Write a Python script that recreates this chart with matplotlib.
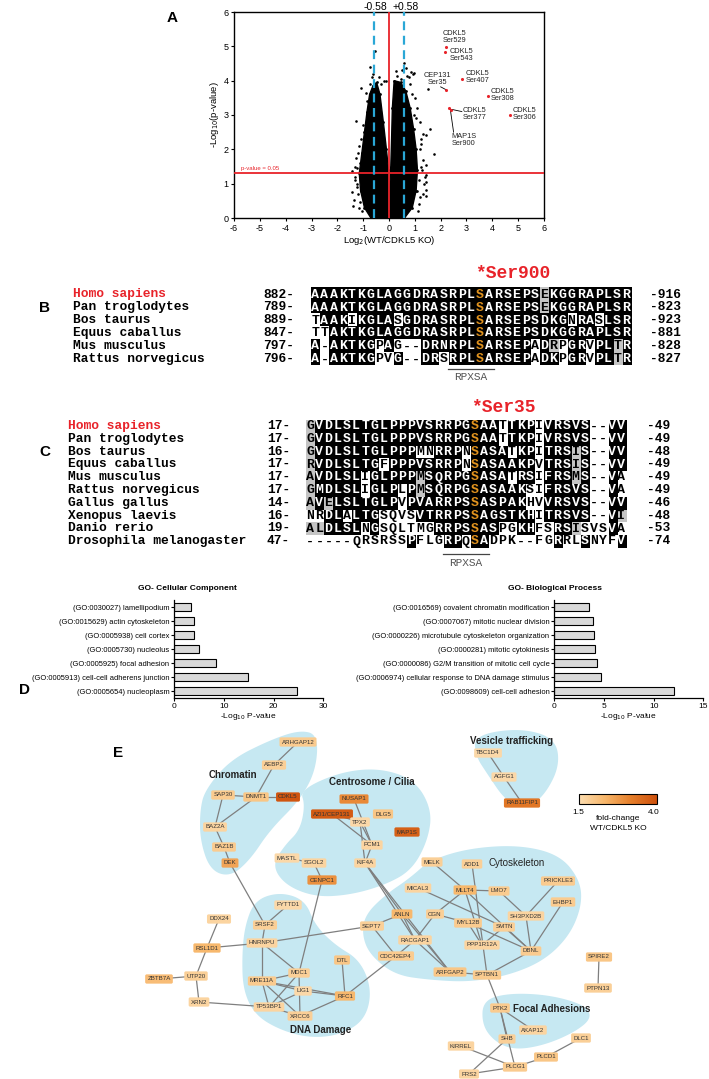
import numpy as np
import matplotlib.pyplot as plt
from matplotlib.colors import LinearSegmentedColormap, ListedColormap, Normalize
from matplotlib.patches import Polygon
import matplotlib.colorbar as mcb

plt.rcParams['font.family'] = ['Liberation Sans', 'DejaVu Sans']
plt.rcParams['axes.unicode_minus'] = False

W, H = 709, 1079
RED = '#E8232A'
CYAN = '#2AA7D6'
ORANGE = '#E0921E'

# ---------------- panel A data (volcano) ----------------
# dense part of the cloud, outlined from the picture
cloud_left = [(-0.62, 3.85), (-0.48, 3.95), (-0.35, 3.6), (-0.22, 2.8), (-0.1, 2.0), (-0.02, 1.4),
              (0.0, 0.8), (0.3, 0.2), (0.5, 0.0), (-0.7, 0.0), (-0.95, 0.3), (-1.1, 0.8),
              (-1.15, 1.3), (-1.05, 1.9), (-0.95, 2.5), (-0.85, 3.1), (-0.75, 3.6)]
cloud_right = [(0.2, 4.0), (0.45, 3.95), (0.65, 3.7), (0.82, 3.2), (0.95, 2.6), (1.05, 2.0),
               (1.1, 1.4), (1.05, 0.8), (0.9, 0.3), (0.6, 0.0), (0.0, 0.0), (0.02, 0.8),
               (0.07, 1.5), (0.1, 2.3), (0.13, 3.2)]
# scattered sites outside the dense part
out_x = [-0.56, -0.75, -0.6, -1.07, -0.9, -1.29, -1.0, -1.1, -1.2, -1.14, -1.42, -1.33, -1.25, -1.42,
         -1.35, -1.14, -1.0, -0.2, -0.13, -0.3, -1.3, -1.25, -1.2, -1.15, -1.05, -1.22, -1.18,
         -0.85, -0.75, -0.65, -0.4, -1.3, -1.38, -1.28,
         0.58, 0.67, 0.26, 0.86, 0.97, 0.92, 0.78, 0.45, 1.51, 1.6, 1.45, 1.3, 1.73, 1.2, 1.45, 1.45,
         1.45, 1.45, 1.45, 1.06, 1.29, 1.15, 1.1, 1.2, 1.3, 1.05, 1.1,
         0.3, 0.5, 0.7, 1.0, 0.98, 1.2, 1.25, 1.22, 1.35, 1.3, 1.15, 1.12, 0.8, 0.88, 1.38, 1.25]
out_y = [4.86, 4.4, 4.2, 3.8, 3.65, 2.83, 2.7, 2.3, 1.9, 1.6, 1.36, 1.11, 1.0, 0.75,
         0.53, 0.48, 0.6, 4.0, 3.99, 3.9, 1.2, 0.9, 0.7, 0.3, 0.2, 1.45, 2.1,
         3.4, 3.9, 4.1, 4.1, 1.5, 0.35, 1.75,
         4.52, 4.36, 4.28, 4.26, 4.23, 4.2, 4.1, 4.05, 3.75, 2.58, 2.42, 2.45, 1.87, 2.0, 1.55, 1.26,
         1.06, 0.82, 0.63, 1.33, 1.4, 1.1, 0.8, 0.6, 1.7, 2.9, 3.2,
         4.15, 4.3, 4.15, 3.5, 3.0, 2.8, 2.3, 1.5, 1.0, 0.7, 0.4, 0.2, 3.9, 3.6, 1.2, 2.15]
hit_x = [2.22, 2.15, 2.81, 2.22, 3.83, 2.32, 2.41, 4.67]
hit_y = [4.99, 4.84, 4.04, 3.73, 3.55, 3.21, 3.15, 3.0]
hit_text = ['CDKL5\nSer529', 'CDKL5\nSer543', 'CDKL5\nSer407', 'CEP131\nSer35', 'CDKL5\nSer308',
            'CDKL5\nSer377', 'MAP1S\nSer900', 'CDKL5\nSer306']
hit_text_x = [2.09, 2.34, 2.98, 1.88, 3.94, 2.85, 2.43, 4.79]
hit_text_y = [5.48, 4.94, 4.31, 4.26, 3.78, 3.24, 2.47, 3.22]

# ---------------- panel B / C data (alignments) ----------------
b_species = ['Homo sapiens', 'Pan troglodytes', 'Bos taurus', 'Equus caballus', 'Mus musculus',
             'Rattus norvegicus']
b_start = [882, 789, 889, 847, 797, 796]
b_end = [916, 823, 923, 881, 828, 827]
b_seqs = ['AAAKTKGLAGGDRASRPLSARSEPSEKGGRAPLSR',
          'AAAKTKGLAGGDRASRPLSARSEPSEKGGRAPLSR',
          'TAAKIKGLASGDRASRPLSARSEPSDKGNRASLSR',
          'TTAKTKGLAGGDRASRPLSARSEPSDKGGRAPLSR',
          'A-AKTKGPAG--DRNRPLSARSEPADRPGRVPLTR',
          'A-AKTKGPVG--DRSRPLSARSEPADKPGRVPLTR']
b_shade = ['k' * 25 + 'g' + 'k' * 9,
           'k' * 25 + 'g' + 'k' * 9,
           'w' + 'kkk' + 'w' + 'kkkk' + 'w' + 'k' * 18 + 'w' + 'kk' + 'w' + 'kkk',
           'ww' + 'k' * 33,
           'k' + 'w' + 'kkkkk' + 'w' + 'k' + 'w' + 'ww' + 'k' * 12 + 'w' + 'k' + 'g' + 'w' + 'kk' + 'w' + 'kk' + 'g' + 'k',
           'k' + 'w' + 'kkkkk' + 'ww' + 'k' + 'ww' + 'kk' + 'w' + 'k' * 9 + 'w' + 'kk' + 'w' + 'kk' + 'w' + 'kk' + 'g' + 'k']

c_species = ['Homo sapiens', 'Pan troglodytes', 'Bos taurus', 'Equus caballus', 'Mus musculus',
             'Rattus norvegicus', 'Gallus gallus', 'Xenopus laevis', 'Danio rerio',
             'Drosophila melanogaster']
c_start = [17, 17, 16, 17, 17, 17, 14, 16, 19, 47]
c_end = [49, 49, 48, 49, 49, 49, 46, 48, 53, 74]
c_seqs = ['GVDLSLTGLPPPVSRRPGSAATTKPIVRSVS--VV',
          'GVDLSLTGLPPPVSRRPGSAATTKPIVRSVS--VV',
          'GVDLSLTGLPPPMNRRPNSASATKPITRSIS--VV',
          'RVDLSLTGFPPPVSRRPNSASAAKPVTRSIS--VV',
          'AVDLSLIGLPPPMSQRPGSASATRSIFRSMS--VA',
          'GMDLSLIGLPLPMSQRPGSASAAKSIFRSVS--VA',
          'AVELSLTGLPVPVARRPSSASPAKHVVRSVS--VV',
          'NRDLALTGSQVSVTRRPSSAGSTKHITRSVS--VI',
          'ALDLSLNGSQLTMGRRPSSASPGKHFSRSISVSVA',
          '-----QRSRSSPFLGRPQSADPK--FGRRLSNYFV']
c_shade = ['g' + 'k' * 20 + 'w' + 'kkk' + 'w' + 'kkkkk' + 'ww' + 'kk',
           'g' + 'k' * 20 + 'w' + 'kkk' + 'w' + 'kkkkk' + 'ww' + 'kk',
           'g' + 'k' * 11 + 'ww' + 'kkk' + 'w' + 'kkkk' + 'w' + 'kk' + 'w' + 'kkk' + 'g' + 'k' + 'ww' + 'kk',
           'g' + 'k' * 7 + 'w' + 'k' * 8 + 'w' + 'k' * 7 + 'w' + 'kkk' + 'g' + 'k' + 'ww' + 'kk',
           'g' + 'kkkkk' + 'w' + 'kkkkk' + 'g' + 'k' * 9 + 'w' + 'kk' + 'w' + 'kkk' + 'g' + 'k' + 'ww' + 'k' + 'w',
           'g' + 'kkkkk' + 'w' + 'kkk' + 'w' + 'k' + 'g' + 'k' * 11 + 'ww' + 'k' * 5 + 'ww' + 'k' + 'w',
           'g' + 'k' + 'g' + 'k' * 7 + 'w' + 'k' * 13 + 'w' + 'w' + 'k' * 5 + 'ww' + 'kk',
           'ww' + 'kk' + 'w' + 'kkk' + 'wwww' + 'k' * 13 + 'w' + 'k' * 5 + 'ww' + 'k' + 'g',
           'gg' + 'kkkk' + 'w' + 'k' + 'wwww' + 'ww' + 'kkkk' + 'k' + 'kk' + 'ww' + 'kk' + 'ww' + 'kk' + 'g' + 'www' + 'k' + 'w',
           'w' * 11 + 'k' + 'www' + 'kk' + 'w' + 'kk' + 'w' * 7 + 'k' + 'ww' + 'k' + 'www' + 'k']
site_col = 18  # phospho serine column

# ---------------- panel D data (GO bars) ----------------
cc_terms = ['(GO:0030027) lamellipodium', '(GO:0015629) actin cytoskeleton', '(GO:0005938) cell cortex',
            '(GO:0005730) nucleolus', '(GO:0005925) focal adhesion',
            '(GO:0005913) cell-cell adherens junction', '(GO:0005654) nucleoplasm']
cc_vals = [3.3, 3.9, 4.0, 5.0, 8.3, 14.9, 24.8]
bp_terms = ['(GO:0016569) covalent chromatin modification', '(GO:0007067) mitotic nuclear division',
            '(GO:0000226) microtubule cytoskeleton organization', '(GO:0000281) mitotic cytokinesis',
            '(GO:0000086) G2/M transition of mitotic cell cycle',
            '(GO:0006974) cellular response to DNA damage stimulus', '(GO:0098609) cell-cell adhesion']
bp_vals = [3.5, 3.9, 4.0, 4.1, 4.3, 4.7, 12.1]

# ---------------- panel E data (network) ----------------
nodes = {
    'ARHGAP12': (298, 742, 1.9), 'AEBP2': (274, 765, 1.8), 'SAP30': (223, 795, 1.9),
    'DNMT1': (256, 797, 2.0), 'CDKL5': (288, 797, 3.9), 'BAZ2A': (215, 827, 1.7),
    'BAZ1B': (224, 847, 1.9), 'DEK': (230, 863, 2.6),
    'NUSAP1': (354, 799, 3.0), 'AZI1/CEP131': (332, 814, 3.8), 'DLG5': (383, 814, 2.0),
    'TPX2': (360, 822, 1.6), 'MAP1S': (407, 832, 3.7), 'PCM1': (372, 845, 1.7),
    'KIF4A': (365, 863, 1.7), 'MASTL': (287, 858, 1.6), 'SGOL2': (314, 863, 1.7),
    'CENPC1': (322, 880, 2.9),
    'TBC1D4': (488, 753, 1.6), 'AGFG1': (504, 777, 1.6), 'RAB11FIP1': (522, 803, 3.3),
    'MELK': (432, 862, 1.8), 'ADD1': (472, 864, 1.8), 'PRICKLE3': (558, 881, 1.9),
    'MICAL3': (418, 888, 1.7), 'MLLT4': (465, 890, 2.3), 'LMO7': (499, 891, 1.9),
    'EHBP1': (563, 902, 1.9), 'ANLN': (402, 914, 2.3), 'CGN': (435, 914, 1.8),
    'SH3PXD2B': (526, 916, 1.7), 'MYL12B': (468, 923, 1.9), 'SMTN': (504, 927, 1.8),
    'SEPT7': (372, 926, 1.8), 'RACGAP1': (415, 940, 1.7), 'PPP1R12A': (482, 945, 1.7),
    'DBNL': (531, 951, 1.9), 'CDC42EP4': (396, 956, 1.9), 'ARFGAP2': (450, 972, 2.0),
    'SPTBN1': (487, 975, 1.9), 'SPIRE2': (599, 957, 2.0), 'PTPN13': (598, 988, 1.8),
    'FYTTD1': (288, 905, 1.6), 'DDX24': (219, 919, 1.7), 'SRSF2': (265, 925, 1.8),
    'HNRNPU': (262, 943, 1.7), 'RSL1D1': (207, 948, 2.3), 'DTL': (342, 960, 2.0),
    'MDC1': (299, 973, 1.8), 'UTP20': (196, 976, 1.8), 'ZBTB7A': (159, 979, 2.2),
    'MRE11A': (262, 981, 1.9), 'LIG1': (303, 991, 1.6), 'RFC1': (345, 996, 2.3),
    'XRN2': (199, 1002, 1.7), 'TP53BP1': (269, 1007, 1.7), 'XRCC6': (300, 1016, 1.8),
    'PTK2': (500, 1008, 1.9), 'AKAP12': (533, 1030, 1.7), 'DLC1': (581, 1038, 1.8),
    'SHB': (507, 1039, 1.8), 'KIRREL': (461, 1046, 1.7), 'PLCD1': (546, 1057, 2.0),
    'PLCG1': (515, 1067, 1.9), 'FRS2': (469, 1074, 1.7),
}
edges = [
    ('ARHGAP12', 'AEBP2'), ('AEBP2', 'DNMT1'), ('DNMT1', 'CDKL5'), ('SAP30', 'DNMT1'),
    ('SAP30', 'BAZ2A'), ('DNMT1', 'BAZ2A'), ('BAZ2A', 'BAZ1B'), ('BAZ1B', 'DEK'), ('DEK', 'SRSF2'),
    ('AZI1/CEP131', 'TPX2'), ('AZI1/CEP131', 'PCM1'), ('NUSAP1', 'PCM1'), ('TPX2', 'PCM1'),
    ('TPX2', 'KIF4A'), ('PCM1', 'KIF4A'), ('KIF4A', 'ANLN'), ('KIF4A', 'RACGAP1'), ('KIF4A', 'ARFGAP2'),
    ('MASTL', 'SGOL2'), ('SGOL2', 'CENPC1'), ('CENPC1', 'MDC1'),
    ('FYTTD1', 'SRSF2'), ('SRSF2', 'HNRNPU'), ('HNRNPU', 'SEPT7'), ('RSL1D1', 'HNRNPU'),
    ('HNRNPU', 'MDC1'), ('HNRNPU', 'MRE11A'), ('DDX24', 'RSL1D1'), ('RSL1D1', 'UTP20'),
    ('UTP20', 'ZBTB7A'), ('UTP20', 'XRN2'), ('XRN2', 'TP53BP1'),
    ('MDC1', 'MRE11A'), ('MDC1', 'XRCC6'), ('MDC1', 'TP53BP1'), ('MRE11A', 'RFC1'), ('MRE11A', 'LIG1'),
    ('MRE11A', 'XRCC6'), ('MRE11A', 'TP53BP1'), ('LIG1', 'RFC1'), ('LIG1', 'TP53BP1'),
    ('TP53BP1', 'XRCC6'), ('XRCC6', 'RFC1'), ('DTL', 'RFC1'), ('RFC1', 'CDC42EP4'),
    ('SEPT7', 'ANLN'), ('SEPT7', 'CDC42EP4'), ('ANLN', 'RACGAP1'), ('ANLN', 'ARFGAP2'),
    ('CGN', 'RACGAP1'), ('CGN', 'MYL12B'), ('MLLT4', 'CGN'), ('RACGAP1', 'CDC42EP4'),
    ('RACGAP1', 'ARFGAP2'), ('MELK', 'MLLT4'), ('MLLT4', 'LMO7'), ('MLLT4', 'PPP1R12A'),
    ('MLLT4', 'DBNL'), ('MICAL3', 'SMTN'), ('SMTN', 'DBNL'), ('SMTN', 'PPP1R12A'),
    ('MYL12B', 'DBNL'), ('MYL12B', 'PPP1R12A'), ('LMO7', 'SH3PXD2B'), ('PRICKLE3', 'SH3PXD2B'),
    ('SH3PXD2B', 'DBNL'), ('EHBP1', 'DBNL'), ('DBNL', 'SPTBN1'), ('ADD1', 'SPTBN1'),
    ('ARFGAP2', 'SPTBN1'), ('SPTBN1', 'PTK2'), ('SPIRE2', 'PTPN13'),
    ('PTK2', 'AKAP12'), ('PTK2', 'SHB'), ('PTK2', 'PLCG1'), ('SHB', 'FRS2'), ('KIRREL', 'PLCG1'),
    ('FRS2', 'PLCG1'), ('PLCG1', 'PLCD1'), ('PLCD1', 'DLC1'),
    ('TBC1D4', 'AGFG1'), ('AGFG1', 'RAB11FIP1'),
]
groups = {
    'Chromatin': [(205, 790), (230, 760), (270, 740), (300, 730), (318, 735), (316, 770), (300, 800),
                  (270, 830), (250, 860), (230, 877), (210, 870), (200, 840), (200, 810)],
    'Centrosome': [(300, 790), (340, 772), (380, 768), (415, 780), (432, 810), (428, 840), (412, 870),
                   (385, 885), (350, 895), (315, 897), (285, 885), (272, 865), (285, 845), (300, 830),
                   (305, 805)],
    'Vesicle': [(475, 735), (520, 728), (555, 738), (560, 765), (545, 795), (525, 810), (505, 800),
                (488, 775), (475, 755)],
    'Cytoskeleton': [(365, 915), (385, 895), (410, 878), (430, 860), (470, 848), (520, 845), (560, 855),
                     (580, 880), (582, 905), (570, 935), (545, 960), (510, 975), (470, 982), (430, 980),
                     (395, 975), (370, 955), (362, 935)],
    'DNA': [(245, 925), (255, 900), (280, 892), (305, 900), (315, 925), (335, 945), (360, 960),
            (372, 990), (365, 1020), (340, 1035), (310, 1038), (280, 1030), (255, 1015), (243, 990),
            (242, 955)],
    'Focal': [(483, 1000), (510, 993), (550, 995), (585, 1005), (592, 1018), (575, 1032), (545, 1045),
              (515, 1050), (495, 1042), (482, 1025)],
}
group_labels = [('Chromatin', 233, 775, 'bold'), ('Centrosome / Cilia', 372, 782, 'bold'),
                ('Vesicle trafficking', 512, 741, 'bold'), ('Cytoskeleton', 517, 863, 'normal'),
                ('DNA Damage', 321, 1030, 'bold'), ('Focal Adhesions', 552, 1009, 'bold')]


def fx(px):
    return px / W


def fy(py):
    return 1 - py / H


def smooth(pts, n=4):
    # rounded outline for the group blobs
    p = np.asarray(pts, float)
    for _ in range(n):
        q = np.roll(p, -1, axis=0)
        r = np.empty((2 * len(p), 2))
        r[0::2] = 0.75 * p + 0.25 * q
        r[1::2] = 0.25 * p + 0.75 * q
        p = r
    return p


fig = plt.figure(figsize=(W / 100, H / 100), dpi=100)
ax0 = fig.add_axes([0, 0, 1, 1])
ax0.axis('off')

# panel letters
for lab, x, y in [('A', 172, 18), ('B', 45, 308), ('C', 45, 452), ('D', 25, 690), ('E', 118, 753)]:
    ax0.text(x, y, lab, fontsize=11, fontweight='bold', ha='center', va='center')

# ---------------- A ----------------
ax = fig.add_axes([fx(234), fy(218), 310 / W, 206 / H])
for poly in (cloud_left, cloud_right):
    ax.add_patch(Polygon(poly, closed=True, fc='k', ec='k', lw=1.0, zorder=2))
    px_, py_ = zip(*poly)
    ax.scatter(px_, py_, s=4, c='k', lw=0, zorder=2)
ax.scatter(out_x, out_y, s=3.5, c='k', lw=0, zorder=2)
ax.axhline(1.301, color=RED, lw=1.3, zorder=3)
ax.axvline(0, color=RED, lw=1.3, zorder=3)
for v in (-0.58, 0.58):
    ax.axvline(v, color=CYAN, lw=1.6, ls=(0, (4, 2.5)), zorder=3)
ax.scatter(hit_x, hit_y, s=5, c=RED, lw=0, zorder=4)
for t, x, y in zip(hit_text, hit_text_x, hit_text_y):
    ha = 'center' if t.startswith('CEP') else 'left'
    ax.text(x, y, t, fontsize=5.3, va='top', ha=ha, linespacing=1.0, color='#222222')
ax.plot([2.0, 2.2], [3.82, 3.74], color='k', lw=0.6)
ax.plot([2.82, 2.45], [3.1, 3.16], color='k', lw=0.6)
ax.plot([2.37, 2.5], [3.18, 2.5], color='k', lw=0.6)
ax.text(-5.74, 1.45, 'p-value = 0.05', color=RED, fontsize=4.3, va='center')
ax.text(-0.05, 6.16, '-0.58', ha='right', va='center', fontsize=7.5, clip_on=False)
ax.text(0.15, 6.16, '+0.58', ha='left', va='center', fontsize=7.5, clip_on=False)
ax.set_xlim(-6, 6)
ax.set_ylim(0, 6)
ax.set_xticks(range(-6, 7))
ax.set_yticks(range(0, 7))
ax.tick_params(labelsize=6.5, length=2.5, width=0.8, pad=1.5)
ax.set_xlabel('Log$_2$(WT/CDKL5 KO)', fontsize=6.8, labelpad=1)
ax.set_ylabel('-Log$_{10}$(p-value)', fontsize=6.8, labelpad=2)
for s in ax.spines.values():
    s.set_linewidth(1.0)


# ---------------- B / C ----------------
def draw_alignment(species, starts, ends, seqs, shades, x_name, x_seq, y0, dy, cw, x_num_end,
                   x_right):
    n = len(seqs)
    code = {'w': 0, 'g': 1, 'k': 2}
    mat = np.array([[code[c] for c in s] for s in shades])
    ax0.imshow(mat, cmap=ListedColormap(['white', '#C4C4C4', 'black']), vmin=0, vmax=2,
               extent=[x_seq, x_seq + mat.shape[1] * cw, y0 + (n - 0.5) * dy, y0 - 0.5 * dy],
               aspect='auto', interpolation='nearest', zorder=1)
    for i in range(n):
        y = y0 + i * dy
        ax0.text(x_name, y, species[i], family='Liberation Mono', fontweight='bold', fontsize=9.3,
                 color=RED if i == 0 else 'k', va='center', ha='left')
        ax0.text(x_num_end, y, f'{starts[i]}-', family='Liberation Mono', fontweight='bold',
                 fontsize=9.3, va='center', ha='right')
        ax0.text(x_right, y, f'-{ends[i]}', family='Liberation Mono', fontweight='bold',
                 fontsize=9.3, va='center', ha='left')
        for j, ch in enumerate(seqs[i]):
            if j == site_col:
                col = ORANGE
            else:
                col = 'white' if shades[i][j] == 'k' else 'black'
            ax0.text(x_seq + (j + 0.5) * cw, y + 0.3, ch, family='Liberation Mono', fontweight='bold',
                     fontsize=9.5, color=col, va='center', ha='center', zorder=2)


cw = 9.15
draw_alignment(b_species, b_start, b_end, b_seqs, b_shade, 73, 310.7, 294.5, 12.9, cw, 294, 650)
draw_alignment(c_species, c_start, c_end, c_seqs, c_shade, 68, 305.7, 426, 12.8, cw, 290, 647)

ax0.text(475, 273, '*Ser900', family='Liberation Mono', fontweight='bold', fontsize=13, color=RED,
         va='center', ha='left')
ax0.text(471, 407, '*Ser35', family='Liberation Mono', fontweight='bold', fontsize=13, color=RED,
         va='center', ha='left')
for xs, yl in [(310.7, 369), (305.7, 554)]:
    ax0.plot([xs + 15 * cw, xs + 20 * cw], [yl, yl], color='#444444', lw=0.9)
    ax0.text(xs + 17.5 * cw, yl + 8.5, 'RPXSA', family='Liberation Mono', fontsize=8,
             color='#555555', ha='center', va='center')


# ---------------- D ----------------
def go_bars(left, right, terms, vals, xmax, step, title, title_x):
    a = fig.add_axes([fx(left), fy(698), (right - left) / W, 98 / H])
    ypos = np.arange(len(terms))[::-1]
    a.barh(ypos, vals, height=0.62, color='#D9D9D9', edgecolor='k', lw=0.8)
    a.set_yticks(ypos)
    a.set_yticklabels(terms, fontsize=5.4)
    a.set_ylim(-0.5, len(terms) - 0.5)
    a.set_xlim(0, xmax)
    a.set_xticks(np.arange(0, xmax + 1, step))
    a.tick_params(axis='x', labelsize=6, length=2.5, width=0.8, pad=1)
    a.tick_params(axis='y', length=2, width=0.8, pad=1.5)
    a.set_xlabel('-Log$_{10}$ P-value', fontsize=6, labelpad=0.5)
    for s in ('top', 'right'):
        a.spines[s].set_visible(False)
    for s in ('left', 'bottom'):
        a.spines[s].set_linewidth(0.9)
    fig.text(fx(title_x), fy(589), title, fontsize=6, fontweight='bold', ha='center', va='center')


go_bars(174.3, 323.3, cc_terms, cc_vals, 30, 10, 'GO- Cellular Component', 187)
go_bars(554.3, 703.3, bp_terms, bp_vals, 15, 5, 'GO- Biological Process', 555)

# ---------------- E ----------------
cmap = LinearSegmentedColormap.from_list('fc', ['#FCDDB0', '#F7B66A', '#E57E2A', '#CD500C'])
norm = Normalize(1.5, 4.0)
for name, pts in groups.items():
    ax0.add_patch(Polygon(smooth(pts), closed=True, fc='#C6E8F2', ec='none', zorder=0.5))
for lab, x, y, wt in group_labels:
    ax0.text(x, y, lab, fontsize=7, fontweight=wt, ha='center', va='center', color='#222222', zorder=5)
for a_, b_ in edges:
    xa, ya, _ = nodes[a_]
    xb, yb, _ = nodes[b_]
    ax0.plot([xa, xb], [ya, yb], color='#7F7F7F', lw=0.9, zorder=2)
for name, (x, y, fc) in nodes.items():
    ax0.text(x, y, name, fontsize=4.4, ha='center', va='center', color='#333333', zorder=4,
             bbox=dict(boxstyle='round,pad=0.35,rounding_size=0.25', fc=cmap(norm(fc)), ec='none'))

cax = fig.add_axes([fx(579), fy(804), 78 / W, 10 / H])
cb = mcb.ColorbarBase(cax, cmap=cmap, norm=norm, orientation='horizontal')
cb.set_ticks([])
cb.outline.set_linewidth(0.8)
ax0.text(578, 813, '1.5', fontsize=6, ha='center', va='center')
ax0.text(654, 813, '4.0', fontsize=6, ha='center', va='center')
ax0.text(618, 818, 'fold-change', fontsize=6, ha='center', va='center')
ax0.text(618, 828, 'WT/CDKL5 KO', fontsize=6, ha='center', va='center')

ax0.set_xlim(0, W)
ax0.set_ylim(H, 0)

fig.savefig('out.png', dpi=100)
